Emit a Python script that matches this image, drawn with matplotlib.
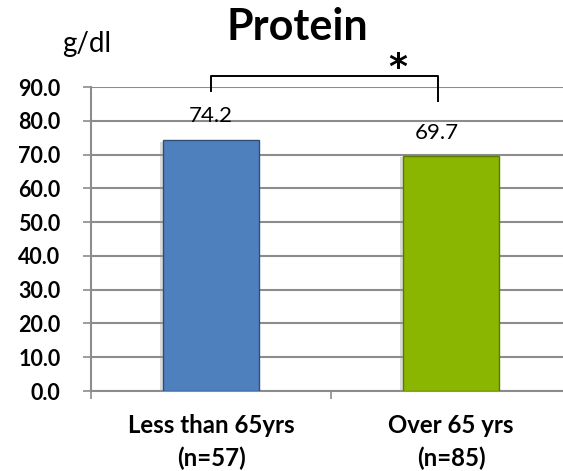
import matplotlib
matplotlib.use("Agg")
import matplotlib.pyplot as plt
import matplotlib.patheffects as pe
import matplotlib.transforms as mtransforms

categories = ["Less than 65yrs", "Over 65 yrs"]
group_sizes = ["(n=57)", "(n=85)"]
values = [74.2, 69.7]
value_labels = ["74.2", "69.7"]
yticks = [0, 10, 20, 30, 40, 50, 60, 70, 80, 90]
ytick_labels = ["0.0", "10.0", "20.0", "30.0", "40.0", "50.0", "60.0", "70.0", "80.0", "90.0"]

face_colors = ["#4F80BE", "#8AB500"]
edge_colors = ["#2E4E78", "#5C7A00"]

plt.rcParams["font.family"] = ["Lato", "DejaVu Sans"]

W, H = 563, 471
fig = plt.figure(figsize=(W / 100, H / 100), dpi=100)
ax = fig.add_axes([91 / W, 1 - 391 / H, 480 / W, 304 / H])

x = list(range(len(values)))
bars = ax.bar(x, values, width=0.4, color=face_colors, edgecolor=edge_colors,
              linewidth=1.0, zorder=3)
for b in bars:
    b.set_path_effects([pe.SimplePatchShadow(offset=(-2, -1), shadow_rgbFace="#999999", alpha=0.35),
                        pe.Normal()])

ax.set_xlim(-0.5, 1.5)
ax.set_ylim(0, 90)
ax.set_yticks(yticks)
ax.set_yticklabels(ytick_labels, fontsize=15.5, fontweight="bold")
ax.yaxis.grid(True, color="#8C8C8C", linewidth=1.5, zorder=0)
ax.tick_params(axis="y", length=6, width=1.2, color="#8C8C8C", pad=16)

ax.set_xticks([-0.5, 0.5, 1.5])
ax.set_xticklabels([])
ax.tick_params(axis="x", which="major", length=6, width=1.2, color="#8C8C8C")

for side in ["top", "right"]:
    ax.spines[side].set_visible(False)
for side in ["left", "bottom"]:
    ax.spines[side].set_color("#8C8C8C")
    ax.spines[side].set_linewidth(1.5)

# two-line category labels under each bar
lab_tr = mtransforms.blended_transform_factory(ax.transData, fig.transFigure)
for xi, cat, n in zip(x, categories, group_sizes):
    ax.text(xi, 1 - 433 / H, cat, transform=lab_tr, ha="center", va="baseline",
            fontsize=17.3, fontweight="bold", clip_on=False)
    ax.text(xi, 1 - 466 / H, n, transform=lab_tr, ha="center", va="baseline",
            fontsize=17.3, fontweight="bold", clip_on=False)

# value labels above the bars
offsets = [5.4, 4.9]
dx = [0.0, -0.06]
for xi, v, lab, off, d in zip(x, values, value_labels, offsets, dx):
    ax.text(xi + d, v + off, lab, ha="center", va="baseline", fontsize=16, zorder=4)

# significance bracket between the two groups
ax.plot([0, 0, 0.946, 0.946], [88.8, 93.3, 93.3, 85.9], color="black", linewidth=1.4,
        clip_on=False, zorder=5)
ax.text(0.78, 92.7, "*", ha="center", va="baseline", fontsize=26, fontweight="bold",
        family="DejaVu Sans", clip_on=False)

fig.text(297 / W, 1 - 40 / H, "Protein", ha="center", va="baseline", fontsize=31, fontweight="bold")
fig.text(87 / W, 1 - 52 / H, "g/dl", ha="center", va="baseline", fontsize=20)

fig.savefig("out.png", dpi=100)
